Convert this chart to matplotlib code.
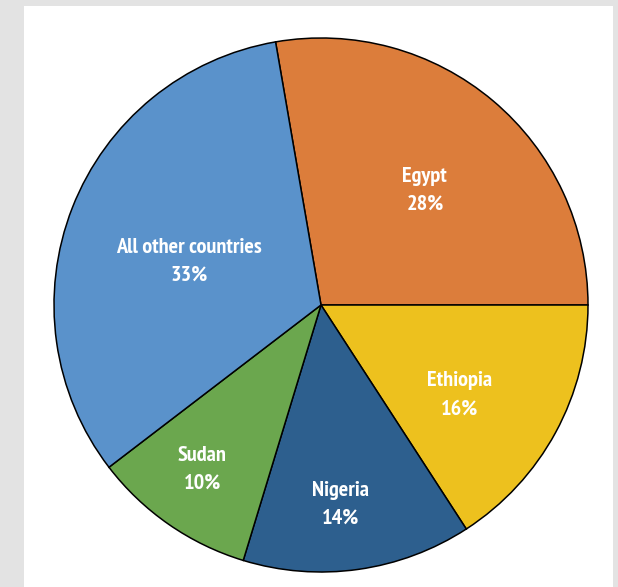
import numpy as np
import matplotlib.pyplot as plt
from matplotlib import font_manager
from matplotlib.font_manager import FontProperties
from matplotlib.patches import Rectangle

# Share by country (labels as printed on the chart)
countries = ["Egypt", "Ethiopia", "Nigeria", "Sudan", "All other countries"]
shares = [28, 16, 14, 10, 33]
colors = ["#DC7D3B", "#EDC11E", "#2D5F8E", "#6BA74E", "#5A92CB"]

# look for a bold narrow/condensed face (narrow ones first), else Roboto bold
fp = FontProperties(family="Roboto", weight="bold", size=12)
cands = [f for f in font_manager.fontManager.ttflist
         if ("Narrow" in f.name or "Condensed" in f.name or f.stretch == "condensed")
         and f.weight in (700, "bold") and f.style == "normal"]
cands.sort(key=lambda f: "Narrow" not in f.name)
if cands:
    narrow = "Narrow" in cands[0].name
    fp = FontProperties(fname=cands[0].fname, size=16 if narrow else 12)

W, H = 618, 587
fig = plt.figure(figsize=(W / 100, H / 100), dpi=100, facecolor="#E3E3E3")
fig.patches.append(Rectangle((24 / W, 0), (613 - 24) / W, (H - 6) / H,
                             transform=fig.transFigure, facecolor="white",
                             edgecolor="none", zorder=-10))

cx, cy, r = 321, 305, 267
ax = fig.add_axes([(cx - r) / W, (H - cy - r) / H, 2 * r / W, 2 * r / H])
ax.set_facecolor("none")

wedges, _ = ax.pie(shares, colors=colors, startangle=99.8, counterclock=False,
                   wedgeprops=dict(edgecolor="black", linewidth=1.1))

# label placement: fraction of radius, and angle shift from slice mid-angle
label_r = [0.58, 0.62, 0.75, 0.76, 0.52]
label_shift = [-2, -4.4, -2.3, -1, 3.2]
for w, name, s, lr, sh in zip(wedges, countries, shares, label_r, label_shift):
    ang = np.deg2rad((w.theta1 + w.theta2) / 2 + sh)
    ax.text(lr * np.cos(ang), lr * np.sin(ang), f"{name}\n{s}%",
            ha="center", va="center", color="white", fontproperties=fp,
            linespacing=1.6)

ax.set_xlim(-1, 1)
ax.set_ylim(-1, 1)
ax.set_aspect("auto")

fig.savefig("out.png", dpi=100, facecolor=fig.get_facecolor())
